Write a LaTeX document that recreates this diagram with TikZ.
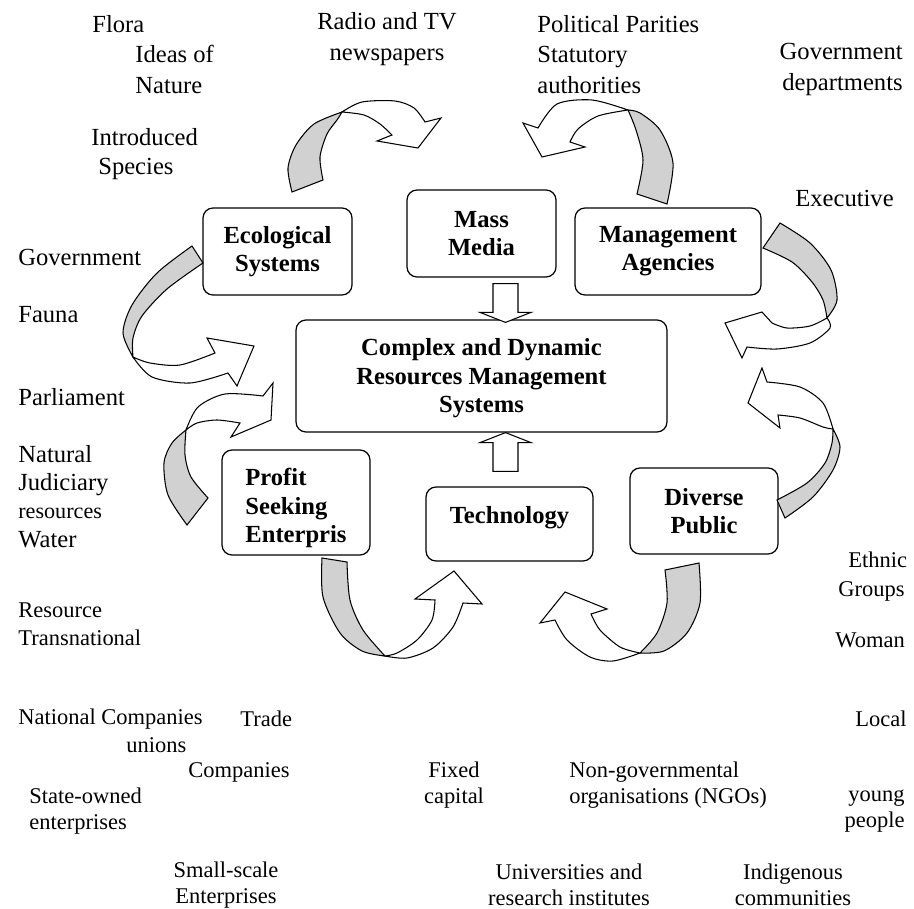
\documentclass[tikz,border=0pt]{standalone}
\usepackage{fontspec}
\setmainfont{Liberation Serif}
\usetikzlibrary{calc}
\tikzstyle{system} = [rectangle, rounded corners=0.2cm,
minimum height=1.74cm,
text centered, align=center,
draw=black, line width=0.7pt,
font=\bfseries\fontsize{14}{16.1}\selectfont]
\tikzstyle{item} = [inner sep=0pt,
font=\fontsize{14}{17.4}\selectfont]
\tikzstyle{itemSmall} = [inner sep=0pt,
font=\fontsize{12.8}{15.1}\selectfont]
\tikzstyle{ribbonBack} = [draw=black, line width=0.6pt, fill=black!18]
\tikzstyle{ribbonFront} = [draw=black, line width=0.6pt, fill=white]
\tikzstyle{blockArrow} = [draw=black, line width=0.6pt, fill=white]

\begin{document}
\begin{tikzpicture}[x=0.02cm, y=-0.02cm]
\useasboundingbox (0,0) rectangle (914,909);

\node (eco) [system, minimum width=2.98cm] at (277.5,251.5) {Ecological\\Systems};
\node (media) [system, minimum width=2.98cm] at (481.5,233.5) {Mass\\Media};
\node (mgmt) [system, minimum width=3.72cm] at (668,251.5) {Management\\Agencies};
\node (core) [system, minimum width=7.42cm, minimum height=2.24cm] at (481.5,376) {\raisebox{-0.05cm}[\height][\depth]{\begin{tabular}{@{}c@{}}Complex and Dynamic\\Resources Management\\Systems\end{tabular}}};
\node (profit) [system, minimum width=2.96cm, minimum height=2.1cm] at (296,502.5) {\raisebox{-0.12cm}[\height][\depth]{\begin{tabular}{@{}l@{}}Profit\\Seeking\\Enterpris\end{tabular}}};
\node (tech) [system, minimum width=3.34cm, minimum height=1.48cm, text height=0.34cm, text depth=0.38cm] at (509.5,524) {Technology};
\node (public) [system, minimum width=2.96cm, minimum height=1.72cm] at (704,511) {Diverse\\Public};

\node (flora) [item, anchor=west] at (92,24) {Flora};
\node (ideas) [item, anchor=west, align=left] at (135,69.5) {Ideas of\\Nature};
\node (introduced) [item, anchor=west, align=left, font=\fontsize{14}{16.5}\selectfont] at (91,154.5) {Introduced\\\hspace*{0.14cm}Species};
\node (radio) [item, align=center] at (387,39) {Radio and TV\\newspapers};
\node (parties) [item, anchor=west, align=left] at (537,54.5) {Political Parities\\Statutory\\authorities};
\node (govDep) [item, anchor=east, align=right] at (903,69.5) {Government\\departments};
\node (executive) [item, anchor=west] at (795,198) {Executive};
\node (government) [item, anchor=west] at (18,257) {Government};
\node (fauna) [item, anchor=west] at (18,315) {Fauna};
\node (parliament) [item, anchor=west] at (18,397) {Parliament};
\node (natural) [item, anchor=west, align=left, font=\fontsize{14}{16.1}\selectfont] at (18,496.5) {Natural\\Judiciary\\{\fontsize{12.6}{16.1}\selectfont resources}\\Water};
\node (resource) [itemSmall, anchor=west, align=left, font=\fontsize{12.8}{16}\selectfont] at (18,624) {Resource\\Transnational};
\node (ethnic) [itemSmall, anchor=west, align=left, font=\fontsize{12.8}{16.5}\selectfont] at (838,576.5) {\hspace*{0.2cm}Ethnic\\Groups};
\node (woman) [itemSmall, anchor=west] at (835,640) {Woman};
\node (national) [itemSmall, anchor=west] at (18,719) {National Companies};
\node (trade) [itemSmall, anchor=west] at (240,719) {Trade};
\node (unions) [itemSmall, anchor=west] at (126,745) {unions};
\node (companies) [itemSmall, anchor=west] at (188,772) {Companies};
\node (stateOwned) [itemSmall, anchor=west, align=left] at (29,811) {State-owned\\enterprises};
\node (smallScale) [itemSmall, align=center] at (226,885) {Small-scale\\Enterprises};
\node (fixed) [itemSmall, align=center] at (454,785) {Fixed\\capital};
\node (ngo) [itemSmall, anchor=west, align=left] at (569,785) {Non-governmental\\organisations (NGOs)};
\node (local) [itemSmall, anchor=east] at (907,719) {Local};
\node (young) [itemSmall, anchor=east, align=right] at (905,811) {young\\people};
\node (universities) [itemSmall, align=center] at (569,885) {Universities and\\research institutes};
\node (indigenous) [itemSmall, align=center] at (793,885) {Indigenous\\communities};

\draw [blockArrow] ($(media.south)+(11.5,6)$) -- ($(media.south)+(36.5,6)$) -- ($(core.north)+(36.5,-7)$) -- ($(core.north)+(49.5,-7)$) -- ($(core.north)+(24,3)$) -- ($(core.north)+(-1.5,-7)$) -- ($(core.north)+(11.5,-7)$) -- cycle;
\draw [blockArrow] ($(tech.north)+(-16.5,-15)$) -- ($(tech.north)+(8.5,-15)$) -- ($(core.south)+(36.5,10)$) -- ($(core.south)+(49.5,10)$) -- ($(core.south)+(24,0)$) -- ($(core.south)+(-1.5,10)$) -- ($(core.south)+(11.5,10)$) -- cycle;

\draw [ribbonBack] plot[smooth] coordinates {(292,192) (288,168) (296,145) (314,124) (342,112)} -- plot[smooth] coordinates {(342,112) (337,120) (327,134) (320,157) (323,180)} -- cycle;
\draw [ribbonFront] plot[smooth] coordinates {(342,112) (362,102) (395,101) (414,108) (425,122)} -- (441,118) -- (418,148) -- (377,141) -- plot[smooth] coordinates {(392,135) (380,124) (364,115) (342,112)} -- cycle;

\draw [ribbonBack] plot[smooth] coordinates {(667,204) (673,163) (660,130) (640,113) (628,110)} -- plot[smooth] coordinates {(628,110) (636,130) (643,160) (637,194)} -- cycle;
\draw [ribbonFront] plot[smooth] coordinates {(628,110) (592,100) (557,104) (538,128)} -- (523,123) -- (542,157) -- (585,147) -- plot[smooth] coordinates {(570,142) (578,129) (598,116) (628,110)} -- cycle;

\draw [ribbonBack] plot[smooth] coordinates {(192,246) (157,273) (132,305) (123,333) (133,357)} -- plot[smooth] coordinates {(133,357) (133,338) (142,316) (167,289) (203,263)} -- cycle;
\draw [ribbonFront] plot[smooth] coordinates {(133,357) (150,363) (180,365) (215,353)} -- (207,338) -- (254,346) -- (237,386) -- plot[smooth] coordinates {(228,373) (190,383) (152,377) (133,357)} -- cycle;

\draw [ribbonBack] plot[smooth] coordinates {(780,223) (810,243) (831,270) (837,300) (827,318)} -- plot[smooth] coordinates {(827,318) (823,300) (812,282) (792,262) (763,248)} -- cycle;
\draw [ribbonFront] plot[smooth] coordinates {(827,318) (810,326) (787,328) (772,323)} -- (762,312) -- (725,323) -- (742,358) -- plot[smooth] coordinates {(747,347) (777,349) (810,343) (830,328) (827,318)} -- cycle;

\draw [ribbonBack] plot[smooth] coordinates {(785,518) (813,497) (833,470) (840,447) (833,429)} -- plot[smooth] coordinates {(833,429) (832,443) (825,463) (807,483) (777,500)} -- cycle;
\draw [ribbonFront] plot[smooth] coordinates {(833,429) (823,403) (800,387) (767,382)} -- (762,368) -- (748,403) -- (780,428) -- plot[smooth] coordinates {(778,415) (800,418) (823,427) (833,429)} -- cycle;

\draw [ribbonBack] plot[smooth] coordinates {(187,525) (168,495) (164,463) (172,443) (186,430)} -- plot[smooth] coordinates {(186,430) (185,455) (191,477) (208,498)} -- cycle;
\draw [ribbonFront] plot[smooth] coordinates {(186,430) (198,407) (225,394) (263,396)} -- (273,383) -- (271,420) -- (231,437) -- plot[smooth] coordinates {(240,423) (217,420) (197,423) (186,430)} -- cycle;

\draw [ribbonBack] plot[smooth] coordinates {(322,558) (323,597) (340,633) (362,651) (385,656)} -- plot[smooth] coordinates {(385,656) (363,630) (350,600) (347,562)} -- cycle;
\draw [ribbonFront] plot[smooth] coordinates {(385,656) (407,658) (433,648) (453,627) (463,603)} -- (482,604) -- (454,571) -- (415,599) -- plot[smooth] coordinates {(435,600) (432,620) (417,640) (397,653) (385,656)} -- cycle;

\draw [ribbonBack] plot[smooth] coordinates {(699,563) (700,603) (687,633) (664,651) (640,653)} -- plot[smooth] coordinates {(640,653) (657,633) (667,603) (665,570)} -- cycle;
\draw [ribbonFront] plot[smooth] coordinates {(640,653) (613,661) (590,657) (567,640) (555,620)} -- (540,623) -- (565,592) -- (607,609) -- plot[smooth] coordinates {(591,614) (600,630) (620,647) (640,653)} -- cycle;
\end{tikzpicture}
\end{document}
